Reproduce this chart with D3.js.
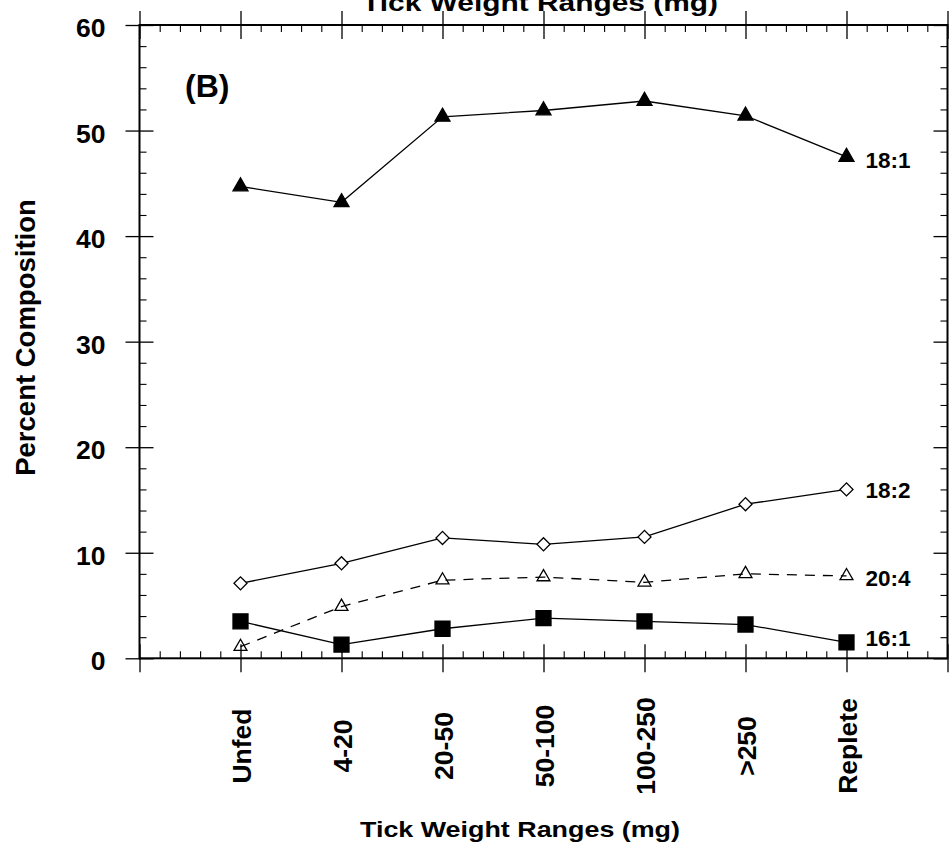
<!DOCTYPE html>
<html>
<head>
<meta charset="utf-8">
<script src="https://cdn.jsdelivr.net/npm/d3@7"></script>
<style>
  body { margin: 0; background: #fff; }
  svg { display: block; background: #fff; }
  text { font-family: "Liberation Sans", Arial, Helvetica, sans-serif; font-weight: bold; fill: #000; }
</style>
</head>
<body>
<svg id="chart" width="951" height="852"></svg>
<script>
// Fatty acid composition by tick weight class
const categories = ["Unfed", "4-20", "20-50", "50-100", "100-250", ">250", "Replete"];
const yTickValues = [0, 10, 20, 30, 40, 50, 60];
const seriesNames = ["18:1", "18:2", "20:4", "16:1"];
const values18_1 = [44.7, 43.2, 51.3, 51.9, 52.8, 51.4, 47.5];
const values18_2 = [7.1, 9.0, 11.4, 10.8, 11.5, 14.6, 16.0];
const values20_4 = [1.1, 4.9, 7.4, 7.7, 7.2, 8.0, 7.8];
const values16_1 = [3.5, 1.3, 2.8, 3.8, 3.5, 3.2, 1.5];
const panelLabel = "(B)";
const xTitle = "Tick Weight Ranges (mg)";
const yTitle = "Percent Composition";

// ---- layout ----
const frame = { left: 139.5, right: 947.5, top: 25, bottom: 658.3 };
const svg = d3.select("#chart");

const x = d3.scaleLinear().domain([0, categories.length + 1]).range([frame.left, frame.right]);
const y = d3.scaleLinear().domain([0, 60]).range([frame.bottom, frame.top]);

const majorX = d3.range(0, categories.length + 2);
const minorX = d3.range(0, (categories.length + 1) * 5 + 1).map(i => i / 5).filter(v => Math.abs(v - Math.round(v)) > 1e-6);
const minorY = d3.range(0, 61, 2).filter(v => v % 10 !== 0);

const MAJOR = 14, MINOR = 7;

function styleTicks(g, w) {
  g.select(".domain").remove();
  g.selectAll(".tick line").attr("stroke", "#000").attr("stroke-width", w);
  g.attr("font-family", null).attr("font-size", null);
}

// bottom axis: major ticks cross the axis, minor ticks point inward
svg.append("g").attr("transform", `translate(0,${frame.bottom})`)
  .call(d3.axisBottom(x).tickValues(majorX).tickSize(MAJOR).tickFormat(""))
  .call(g => { styleTicks(g, 1.3); g.selectAll(".tick line").attr("y1", -MAJOR); });
svg.append("g").attr("transform", `translate(0,${frame.bottom})`)
  .call(d3.axisTop(x).tickValues(minorX).tickSize(MINOR).tickFormat(""))
  .call(g => styleTicks(g, 1.1));

// top axis
svg.append("g").attr("transform", `translate(0,${frame.top})`)
  .call(d3.axisTop(x).tickValues(majorX).tickSize(MAJOR).tickFormat(""))
  .call(g => { styleTicks(g, 1.3); g.selectAll(".tick line").attr("y1", MAJOR); });
svg.append("g").attr("transform", `translate(0,${frame.top})`)
  .call(d3.axisBottom(x).tickValues(minorX).tickSize(MINOR).tickFormat(""))
  .call(g => styleTicks(g, 1.1));

// left axis with labels
svg.append("g").attr("transform", `translate(${frame.left},0)`)
  .call(d3.axisLeft(y).tickValues(yTickValues).tickSize(MAJOR).tickPadding(20).tickFormat(d3.format("d")))
  .call(g => {
    styleTicks(g, 1.3);
    g.selectAll(".tick line").attr("x1", MAJOR);
    g.selectAll(".tick text").attr("y", 3).style("font-size", "26.5px");
  });
svg.append("g").attr("transform", `translate(${frame.left},0)`)
  .call(d3.axisRight(y).tickValues(minorY).tickSize(MINOR).tickFormat(""))
  .call(g => styleTicks(g, 1.1));

// right axis
svg.append("g").attr("transform", `translate(${frame.right},0)`)
  .call(d3.axisLeft(y).tickValues(yTickValues).tickSize(MAJOR).tickFormat(""))
  .call(g => styleTicks(g, 1.3));
svg.append("g").attr("transform", `translate(${frame.right},0)`)
  .call(d3.axisLeft(y).tickValues(minorY).tickSize(MINOR).tickFormat(""))
  .call(g => styleTicks(g, 1.1));

// plot frame
svg.append("rect")
  .attr("x", frame.left).attr("y", frame.top)
  .attr("width", frame.right - frame.left).attr("height", frame.bottom - frame.top)
  .attr("fill", "none").attr("stroke", "#000").attr("stroke-width", 2);

// category labels, rotated
svg.append("g").selectAll("text")
  .data(categories)
  .join("text")
  .attr("transform", (d, i) => `translate(${x(i + 1) + 1},746) rotate(-90)`)
  .attr("text-anchor", "middle")
  .attr("dy", "0.35em")
  .style("font-size", "26.5px")
  .text(d => d);

// titles
svg.append("text")
  .attr("x", 540).attr("y", 11)
  .attr("text-anchor", "middle")
  .attr("textLength", 356).attr("lengthAdjust", "spacingAndGlyphs")
  .style("font-size", "23px")
  .text(xTitle);

svg.append("text")
  .attr("x", 520).attr("y", 837)
  .attr("text-anchor", "middle")
  .attr("textLength", 320).attr("lengthAdjust", "spacingAndGlyphs")
  .style("font-size", "21.5px")
  .text(xTitle);

svg.append("text")
  .attr("transform", "translate(35,337.5) rotate(-90)")
  .attr("text-anchor", "middle")
  .style("font-size", "27.5px")
  .text(yTitle);

svg.append("text")
  .attr("x", 185).attr("y", 97)
  .style("font-size", "32px")
  .text(panelLabel);

// ---- series ----
const triangle = d3.symbol().type(d3.symbolTriangle);
const square = d3.symbol().type(d3.symbolSquare);

const seriesValues = [values18_1, values18_2, values20_4, values16_1];
const seriesStyle = [
  { path: triangle.size(97)(), rotate: 0, fill: "#000", dash: null, labelShift: 3.5 },
  { path: square.size(85)(), rotate: 45, fill: "#fff", dash: null, labelShift: 0.7 },
  { path: triangle.size(72)(), rotate: 0, fill: "none", dash: "10,8", labelShift: 2 },
  { path: square.size(225)(), rotate: 0, fill: "#000", dash: null, labelShift: -4 }
];

const line = d3.line().x((d, i) => x(i + 1)).y(d => y(d));

seriesValues.forEach((vals, s) => {
  const st = seriesStyle[s];
  svg.append("path")
    .attr("d", line(vals))
    .attr("fill", "none")
    .attr("stroke", "#000")
    .attr("stroke-width", 1.3)
    .attr("stroke-dasharray", st.dash);

  svg.append("g").selectAll("path")
    .data(vals)
    .join("path")
    .attr("transform", (d, i) => `translate(${x(i + 1)},${y(d)}) rotate(${st.rotate})`)
    .attr("d", st.path)
    .attr("fill", st.fill)
    .attr("stroke", "#000")
    .attr("stroke-width", 1.3);

  const last = vals.length - 1;
  svg.append("text")
    .attr("x", x(last + 1) + 19)
    .attr("y", y(vals[last]) + st.labelShift)
    .attr("dy", "0.35em")
    .style("font-size", "22.5px")
    .text(seriesNames[s]);
});
</script>
</body>
</html>
